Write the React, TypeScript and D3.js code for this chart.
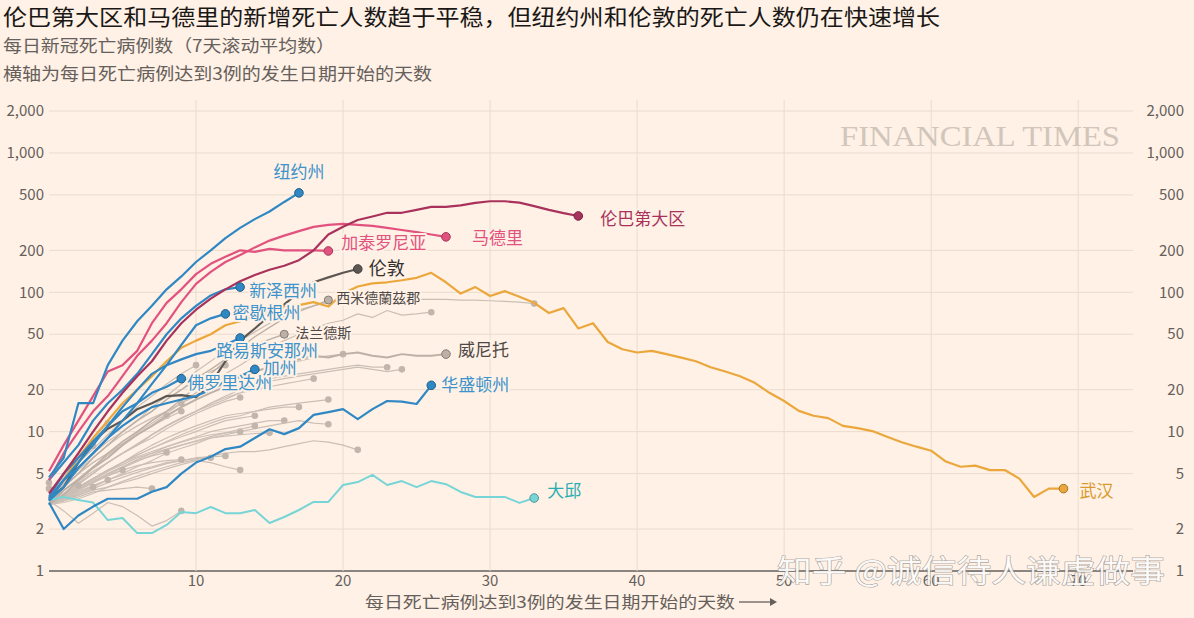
import React from 'react';
import * as d3 from 'd3';

const W = 1194;
const H = 618;

// ---------- axis ticks ----------
const yTicks = [1, 2, 5, 10, 20, 50, 100, 200, 500, 1000, 2000];
const xTicks = [10, 20, 30, 40, 50, 60, 70];

// ---------- highlighted series (value per day, day 0 = first day with 3 deaths) ----------
const newYork = [4.7, 6.5, 16, 16, 30, 45, 62, 80, 105, 130, 165, 200, 245, 290, 335, 380, 445, 517];
const lombardy = [3.6, 5, 7, 10, 14, 19, 25, 32, 45, 60, 75, 90, 105, 120, 133, 145, 155, 170, 200, 260, 295, 330, 350, 372, 372, 390, 410, 410, 420, 438, 450, 450, 440, 415, 390, 370, 353];
const madrid = [4.5, 7, 10, 14, 18, 25, 35, 45, 60, 85, 115, 140, 165, 185, 210, 235, 255, 275, 295, 305, 310, 305, 300, 290, 280, 270, 260, 250];
const catalonia = [5.2, 8, 12, 18, 27, 30, 38, 60, 84, 105, 135, 160, 180, 200, 195, 205, 200, 200, 200, 198];
const london = [3.3, 4, 6, 8.5, 10.5, 12, 14.5, 16, 18, 18.3, 17.7, 22, 32, 45, 55, 68, 82, 100, 118, 128, 138, 147];
const newJersey = [4.5, 6, 8, 12, 16, 20, 26, 36, 50, 65, 80, 95, 105, 109];
const michigan = [3.2, 4, 5.5, 7, 9, 12, 16, 22, 30, 42, 58, 65, 70];
const louisiana = [3.3, 4.5, 6, 8, 11, 15, 20, 26, 30, 33, 36, 38, 42, 47];
const california = [3.2, 4.5, 5.5, 7, 9, 11, 13, 15, 16, 17, 18, 20, 23, 25, 28];
const florida = [3.4, 5, 6.5, 8.5, 11, 14, 16, 19, 21, 24];
const washington = [3.1, 2.0, 2.5, 2.9, 3.3, 3.3, 3.3, 3.7, 4.0, 5.0, 6.0, 6.6, 7.5, 7.8, 9.0, 10.4, 9.6, 10.6, 13.2, 13.8, 14.5, 12.3, 14.5, 16.6, 16.4, 15.8, 21.5];
const daegu = [3.23, 3.4, 3.23, 3.1, 2.32, 2.4, 1.87, 1.87, 2.14, 2.65, 2.6, 2.88, 2.6, 2.6, 2.74, 2.21, 2.44, 2.74, 3.13, 3.13, 4.14, 4.35, 4.89, 4.14, 4.42, 4.0, 4.42, 4.2, 3.69, 3.4, 3.4, 3.4, 3.08, 3.34];
const wuhan = [3.3, 4.5, 6.5, 9, 12, 16, 20, 25, 32, 40, 45, 50, 58, 62, 68, 72, 78, 81, 85, 79, 98, 110, 116, 118, 122, 127, 138, 118, 98, 109, 94, 102, 93, 84, 71, 77, 55, 60, 44, 39, 37, 38, 36, 34, 32, 29, 27, 25, 22.4, 19, 16.6, 14.1, 13, 12.5, 11, 10.6, 10.1, 9.2, 8.4, 7.8, 7.3, 6.1, 5.6, 5.7, 5.3, 5.3, 4.6, 3.4, 3.9, 3.9];
const westMidlands = [3.0, 3.5, 4.5, 5.5, 7, 8.5, 10, 12, 14, 17, 21, 26, 32, 40, 48, 56, 65, 73, 80, 88];
const flanders = [3.0, 4.0, 5.0, 6.5, 8, 10, 12, 14, 17, 20, 24, 28, 33, 38, 42, 46, 50];
const veneto = [3.0, 3.8, 4.5, 5.5, 6.5, 8, 9.5, 11, 13, 15, 17, 19, 21, 24, 27, 29, 31, 33, 35, 34, 36, 37, 35, 34, 36, 35, 35, 36];

// ---------- other regions (grey, unlabelled) ----------
const greyA = [3.0, 4.0, 5.0, 6.5, 8.0, 10, 12, 15, 18, 22, 27, 32, 38, 45, 52, 60, 68, 75, 80, 85, 88, 90, 90, 90, 90, 89, 89, 89, 88, 88, 87, 86, 85, 83];
const greyB = [3.2, 3.8, 4.6, 5.6, 6.8, 8.2, 9.8, 11.5, 13.5, 16, 19, 22, 26, 30, 35, 40, 45, 50, 55, 60, 63, 70, 66, 74, 68.5, 70, 72];
const greyC = [3.2, 4, 5, 6, 7, 8.5, 10, 12, 14, 16, 18, 20, 22, 24, 27, 29, 31, 32, 34, 35, 36];
const greyD = [3.0, 3.5, 4.2, 5, 6, 7, 8, 9.5, 11, 12.5, 14, 16, 18, 20, 22, 24, 25, 26, 27, 28, 29, 30, 29, 29];
const greyE = [3.5, 3.6, 4.4, 5.2, 6, 7, 8.2, 9.5, 11, 12.5, 14, 15.5, 17, 19, 21, 23, 24, 25, 26, 27, 28, 29, 28, 27, 28];
const greyF = [3.0, 3.5, 4.2, 5, 6, 7, 8, 9.5, 11, 12.5, 14, 16, 17.5, 19, 20, 21, 22, 23, 24];
const greyG = [3.8, 3.4, 4, 4.6, 5.3, 6, 7, 8, 9, 10, 11, 12, 13, 13.5, 14, 15, 15.5, 16, 16.5, 17];
const greyH = [3.0, 3.5, 4, 4.5, 5.2, 6, 6.8, 7.6, 8.5, 9.5, 10.5, 11.5, 12.5, 13, 14, 14.5, 15, 15];
const greyI = [3.2, 3.3, 3.8, 4.3, 5, 5.6, 6.3, 7, 7.8, 8.5, 9.2, 10, 10.5, 11, 11.5, 12, 12];
const greyJ = [3.0, 3.2, 3.6, 4, 4.5, 5, 5.6, 6.2, 7, 7.6, 8.2, 9, 9.5, 10, 10.5, 11, 11.5, 12, 11.5, 11.3];
const greyK = [3.0, 3.1, 3.3, 3.6, 4, 4.4, 4.8, 5.2, 5.6, 6, 6.3, 6.7, 7, 7.2, 7.2, 7.4, 7.8, 8.2, 8.6, 8.4, 8, 7.4];
const greyL = [3.5, 3.5, 4, 4.6, 5.2, 5.8, 6.5, 7, 7.5, 8, 8.5, 9, 9.3, 9.5, 9.7, 9.8];
const greyM = [3.0, 3.4, 4, 4.6, 5.3, 6, 6.6, 7.2, 7.8, 8.4, 9, 9.5, 9.8, 10];
const greyN = [3.0, 3.3, 3.5, 3.8, 4, 4.3, 4.6, 5, 5.4, 5.8, 6.2, 6, 5.6, 5.3];
const greyO = [3.0, 3.2, 3.5, 3.9, 4.3, 4.7, 5.1, 5.5, 5.9, 6.2, 6.5, 6.6, 6.7];
const greyP = [3.3, 3.3, 3.7, 4.1, 4.5, 4.9, 5.3, 5.6, 6, 6.2, 6.4, 6.5];
const greyQ = [3.0, 3.4, 3.9, 4.4, 4.9, 5.3, 5.7, 6, 6.2, 6.3];
const greyR = [3.2, 2.7, 2.2, 2.6, 3.1, 2.9, 2.5, 2.1, 2.3, 2.7];
const greyS = [3.0, 3.2, 3.4, 3.7, 3.8, 3.9, 4, 3.9];
const greyT = [3.0, 3.8, 4.6, 5.6, 6.8, 8, 9.5, 11, 13];
const greyU = [3.5, 4, 5, 6, 7, 8.2, 9.5, 11, 12.5, 14];
const greyV = [3.2, 4.2, 5.3, 6.5, 8, 9.5, 11, 12.5, 14, 16];
const greyW = [3.3, 4.5, 6, 7.5, 9.5, 12, 15, 18, 22, 26, 30];
const greyX = [3.3, 4.3, 5.5, 7, 8.5, 10, 12, 14, 17, 20, 23, 27, 30];
const greyY = [3.0, 3.6, 4.3, 5, 6, 7, 8, 9, 10.5, 12, 13.5, 15, 16.5, 17.6];
const greyZ = [3.0, 3.4, 4, 4.6, 5.2, 6, 6.8, 7.6, 8.4, 9.2, 10, 11, 12, 12.5, 13];
const greyAA = [3.0, 3.3, 3.8, 4.3, 4.9, 5.5, 6.1, 6.8, 7.4, 8, 8.6, 9.2, 9.8, 10.4, 11];
const greyAB = [3.0, 3.4, 3.9, 4.4, 5, 5.6, 6.2, 6.7, 7.1];
const greyAC = [3.0, 3.4, 3.9, 4.3, 4.8, 5.3];
const greyAD = [3.0, 3.3, 3.7, 4.1, 4.5];
const greyAE = [3.0, 3.3, 3.6, 4];
const greyAF = [3.0, 3.6, 4.1];
const greyAG = [3.5, 4.5, 6, 7.9];
const greyAH = [3.5, 4.8, 6.5, 9, 11.5];
const greyAI = [3.9];
const greyAJ = [4.3];

const greySeries = [greyA, greyB, greyC, greyD, greyE, greyF, greyG, greyH, greyI, greyJ, greyK, greyL, greyM, greyN, greyO, greyP, greyQ, greyR, greyS, greyT, greyU, greyV, greyW, greyX, greyY, greyZ, greyAA, greyAB, greyAC, greyAD, greyAE, greyAF, greyAG, greyAH, greyAI, greyAJ];

// ---------- labels ----------
const labelNames = ['纽约州', '伦巴第大区', '马德里', '加泰罗尼亚', '伦敦', '西米德蘭茲郡', '新泽西州', '密歇根州', '法兰德斯', '路易斯安那州', '加州', '佛罗里达州', '威尼托', '华盛顿州', '大邱', '武汉'];

const title = '伦巴第大区和马德里的新增死亡人数趋于平稳，但纽约州和伦敦的死亡人数仍在快速增长';
const subtitle1 = '每日新冠死亡病例数（7天滚动平均数）';
const subtitle2 = '横轴为每日死亡病例达到3例的发生日期开始的天数';
const xAxisTitle = '每日死亡病例达到3例的发生日期开始的天数';
const brand = 'FINANCIAL TIMES';
const watermark = '知乎 @诚信待人谦虚做事';

// ---------- styles ----------
const BG = '#fff1e5';
const GRID = '#e9dccf';
const AXIS = '#66605c';
const FONT = '"Noto Sans CJK SC", "Noto Sans", sans-serif';
const BLUE = '#2f88c4';
const BLUE_T = '#3d93cb';
const LOMB = '#a8325c';
const PINK = '#e2527f';
const LOND = '#5d5754';
const WUHAN = '#eba73b';
const DAEGU = '#78d5d7';
const GREY = '#cbbfb5';

type Hi = { values: number[]; color: string; text: string; name: string; dx: number; dy: number; size: number; anchor?: string; width: number };

const highlights: Hi[] = [
  { values: westMidlands, color: '#bdb1a7', text: '#4d4845', name: labelNames[5], dx: 8, dy: -2, size: 14, width: 1.4 },
  { values: flanders, color: '#bdb1a7', text: '#4d4845', name: labelNames[8], dx: 11, dy: -1, size: 14, width: 1.4 },
  { values: veneto, color: '#bdb1a7', text: '#4d4845', name: labelNames[12], dx: 12, dy: -4, size: 17, width: 2 },
  { values: daegu, color: DAEGU, text: '#26adb1', name: labelNames[14], dx: 13, dy: -7, size: 17, width: 2 },
  { values: wuhan, color: WUHAN, text: '#d99a2f', name: labelNames[15], dx: 16, dy: 2, size: 17, width: 2.2 },
  { values: london, color: LOND, text: '#33302e', name: labelNames[4], dx: 11, dy: 0, size: 18, width: 2.2 },
  { values: washington, color: BLUE, text: BLUE_T, name: labelNames[13], dx: 10, dy: 0, size: 17, width: 2.2 },
  { values: florida, color: BLUE, text: BLUE_T, name: labelNames[11], dx: 6, dy: 4, size: 17, width: 2.2 },
  { values: california, color: BLUE, text: BLUE_T, name: labelNames[10], dx: 8, dy: -1, size: 17, width: 2.2 },
  { values: louisiana, color: BLUE, text: BLUE_T, name: labelNames[9], dx: -24, dy: 13, size: 17, width: 2.2 },
  { values: michigan, color: BLUE, text: BLUE_T, name: labelNames[7], dx: 7, dy: -1, size: 17, width: 2.2 },
  { values: newJersey, color: BLUE, text: BLUE_T, name: labelNames[6], dx: 9, dy: 4, size: 17, width: 2.2 },
  { values: catalonia, color: PINK, text: PINK, name: labelNames[3], dx: 13, dy: -8, size: 17, width: 2.2 },
  { values: madrid, color: PINK, text: PINK, name: labelNames[2], dx: 26, dy: 1, size: 17, width: 2.2 },
  { values: lombardy, color: LOMB, text: LOMB, name: labelNames[1], dx: 22, dy: 3, size: 17, width: 2.2 },
  { values: newYork, color: BLUE, text: BLUE_T, name: labelNames[0], dx: 0, dy: -21, size: 17, anchor: 'middle', width: 2.2 },
];

export default function App() {
  const x = d3.scaleLinear().domain([0, 74]).range([49, 1137]);
  const y = d3.scaleLog().domain([1, 2000]).range([571, 111]);
  const line = d3.line<number>().x((_, i) => x(i)).y((d) => y(d)).curve(d3.curveLinear);
  const fmt = d3.format(',');
  const gx0 = 49, gx1 = 1133;

  return (
    <svg width={W} height={H} style={{ display: 'block', position: 'absolute', left: 0, top: 0 }} xmlns="http://www.w3.org/2000/svg">
      <rect x={0} y={0} width={W} height={H} fill={BG} />
      {/* titles */}
      <text x={3} y={25} fontFamily={FONT} fontSize={22} fill="#1a1817" textLength={937} lengthAdjust="spacingAndGlyphs">{title}</text>
      <text x={3} y={52} fontFamily={FONT} fontSize={17} fill={AXIS} textLength={332} lengthAdjust="spacingAndGlyphs">{subtitle1}</text>
      <text x={3} y={80} fontFamily={FONT} fontSize={17} fill={AXIS} textLength={429} lengthAdjust="spacingAndGlyphs">{subtitle2}</text>

      {/* grid */}
      {yTicks.map((t) => (
        <line key={'gy' + t} x1={gx0} x2={gx1} y1={y(t)} y2={y(t)} stroke={t === 1 ? AXIS : GRID} strokeWidth={t === 1 ? 1.3 : 1} />
      ))}
      {xTicks.map((t) => (
        <line key={'gx' + t} x1={x(t)} x2={x(t)} y1={100} y2={571} stroke={GRID} strokeWidth={1} />
      ))}
      {/* brand */}
      <text x={840} y={146} fontFamily='"Liberation Serif", "DejaVu Serif", serif' fontSize={29} fill="#d1c6bb" textLength={280} lengthAdjust="spacingAndGlyphs">{brand}</text>

      {/* y labels */}
      {yTicks.map((t) => (
        <g key={'yl' + t}>
          <text x={44} y={y(t)} dy="0.35em" textAnchor="end" fontFamily={FONT} fontSize={15} fill={AXIS}>{fmt(t)}</text>
          <text x={1184} y={y(t)} dy="0.35em" textAnchor="end" fontFamily={FONT} fontSize={15} fill={AXIS}>{fmt(t)}</text>
        </g>
      ))}
      {/* x labels */}
      {xTicks.map((t) => (
        <text key={'xl' + t} x={x(t)} y={586} textAnchor="middle" fontFamily={FONT} fontSize={15} fill={AXIS}>{t}</text>
      ))}
      <text x={365} y={608} fontFamily={FONT} fontSize={16} fill={AXIS} textLength={370} lengthAdjust="spacingAndGlyphs">{xAxisTitle}</text>
      <line x1={739} x2={770} y1={602} y2={602} stroke={AXIS} strokeWidth={1.3} />
      <path d="M770,598 L777,602 L770,606 Z" fill={AXIS} />

      {/* grey lines */}
      {greySeries.map((s, i) => (
        <g key={'g' + i}>
          {s.length > 1 && <path d={line(s) || ''} fill="none" stroke={GREY} strokeWidth={1.2} strokeLinejoin="round" />}
          <circle cx={x(s.length - 1)} cy={y(s[s.length - 1])} r={3.3} fill="#c2b6ac" />
        </g>
      ))}

      {/* highlighted lines */}
      {highlights.map((h, i) => (
        <path key={'h' + i} d={line(h.values) || ''} fill="none" stroke={h.color} strokeWidth={h.width} strokeLinejoin="round" />
      ))}
      {highlights.map((h, i) => {
        const n = h.values.length - 1;
        const c = d3.color(h.color);
        return (
          <circle key={'m' + i} cx={x(n)} cy={y(h.values[n])} r={h.size < 16 ? 4 : 4.3} fill={h.color} stroke={c ? c.darker(1).formatHex() : '#333'} strokeWidth={1} />
        );
      })}
      {highlights.map((h, i) => {
        const n = h.values.length - 1;
        return (
          <text key={'t' + i} x={x(n) + h.dx} y={y(h.values[n]) + h.dy} dy="0.35em" textAnchor={h.anchor || 'start'} fontFamily={FONT} fontSize={h.size} fill={h.text} stroke={BG} strokeWidth={4} paintOrder="stroke" strokeLinejoin="round">{h.name}</text>
        );
      })}

      {/* watermark */}
      <text x={777} y={582} fontFamily={FONT} fontSize={31} fill="#ffffff" fillOpacity={0.9} stroke="#6b6562" strokeOpacity={0.55} strokeWidth={1.2} paintOrder="stroke" textLength={388} lengthAdjust="spacingAndGlyphs">{watermark}</text>
    </svg>
  );
}
